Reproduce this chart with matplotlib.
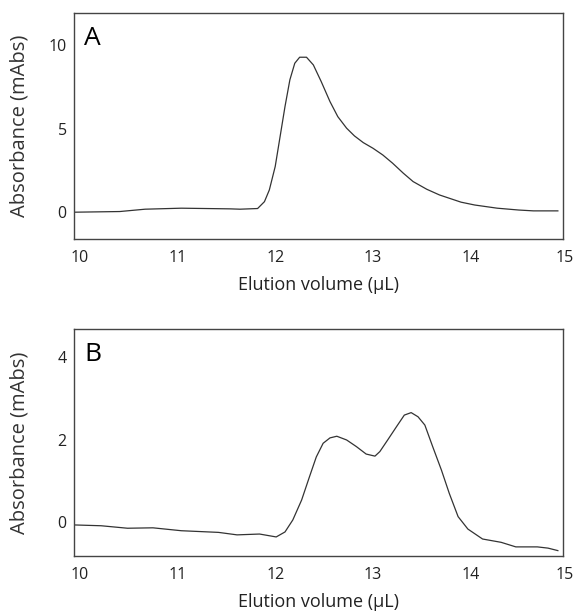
import matplotlib
matplotlib.use('Agg')
import matplotlib.pyplot as plt
from matplotlib.transforms import ScaledTranslation

# panel A trace
vol_a = [10.0, 10.47, 10.73, 11.1, 11.6, 11.7, 11.88, 11.95, 12.0, 12.06, 12.11,
         12.16, 12.21, 12.26, 12.31, 12.38, 12.45, 12.53, 12.62, 12.7, 12.79,
         12.87, 12.96, 13.06, 13.16, 13.26, 13.37, 13.47, 13.61, 13.74, 13.96,
         14.1, 14.33, 14.55, 14.7, 14.95]
abs_a = [0.0, 0.04, 0.18, 0.24, 0.2, 0.18, 0.22, 0.63, 1.33, 2.73, 4.52,
         6.31, 7.91, 8.9, 9.26, 9.26, 8.8, 7.81, 6.61, 5.71, 5.02,
         4.56, 4.16, 3.82, 3.42, 2.93, 2.33, 1.83, 1.37, 1.03, 0.6,
         0.43, 0.24, 0.13, 0.08, 0.08]

# panel B trace
vol_b = [10.0, 10.28, 10.55, 10.81, 11.1, 11.48, 11.67, 11.9, 12.07, 12.16, 12.24,
         12.33, 12.41, 12.48, 12.55, 12.62, 12.69, 12.79, 12.89, 12.99, 13.08,
         13.13, 13.21, 13.3, 13.38, 13.45, 13.52, 13.59, 13.67, 13.76, 13.84,
         13.93, 14.03, 14.18, 14.37, 14.52, 14.74, 14.85, 14.95]
abs_b = [-0.06, -0.08, -0.14, -0.13, -0.2, -0.24, -0.3, -0.28, -0.35, -0.23, 0.06,
         0.54, 1.1, 1.58, 1.91, 2.04, 2.08, 1.99, 1.83, 1.65, 1.6,
         1.71, 1.99, 2.31, 2.59, 2.65, 2.55, 2.35, 1.83, 1.26, 0.7,
         0.14, -0.16, -0.4, -0.48, -0.59, -0.59, -0.62, -0.68]

xticks = [10, 11, 12, 13, 14, 15]

plt.rcParams['font.family'] = ['Open Sans', 'DejaVu Sans']

fig = plt.figure(figsize=(5.76, 6.12), dpi=100)
ax1 = fig.add_axes([0.128, 0.6095, 0.849, 0.37])
ax2 = fig.add_axes([0.128, 0.0915, 0.849, 0.3704])

panels = [(ax1, vol_a, abs_a, 'A', (-1.6, 11.93), [0, 5, 10], 0.94),
          (ax2, vol_b, abs_b, 'B', (-0.81, 4.66), [0, 2, 4], 0.945)]

for ax, x, y, letter, ylim, yt, ly in panels:
    ax.plot(x, y, color='#333333', lw=0.9)
    ax.set_xlim(10, 15)
    ax.set_ylim(*ylim)
    ax.set_xticks(xticks)
    ax.set_yticks(yt)
    ax.tick_params(length=0, labelsize=11.5, colors='#222222')
    ax.tick_params(axis='x', pad=8)
    ax.tick_params(axis='y', pad=5)
    # x labels in the original sit a little right of the ticks
    labs = ax.get_xticklabels()
    for i, lab in enumerate(labs):
        dx = 2 if i == len(labs) - 1 else 6
        lab.set_transform(lab.get_transform() + ScaledTranslation(dx / 100, 0, fig.dpi_scale_trans))
    for s in ax.spines.values():
        s.set_color('#444444')
        s.set_linewidth(1.0)
    ax.set_xlabel('Elution volume (μL)', fontsize=13, color='#222222')
    ax.xaxis.set_label_coords(0.5, -0.165)
    ax.set_ylabel('Absorbance (mAbs)', fontsize=14.5, color='#333333')
    ax.yaxis.set_label_coords(-0.09, 0.5)
    ax.text(0.022, ly, letter, transform=ax.transAxes, fontsize=19, va='top', ha='left')

fig.savefig('out.png', dpi=100)
